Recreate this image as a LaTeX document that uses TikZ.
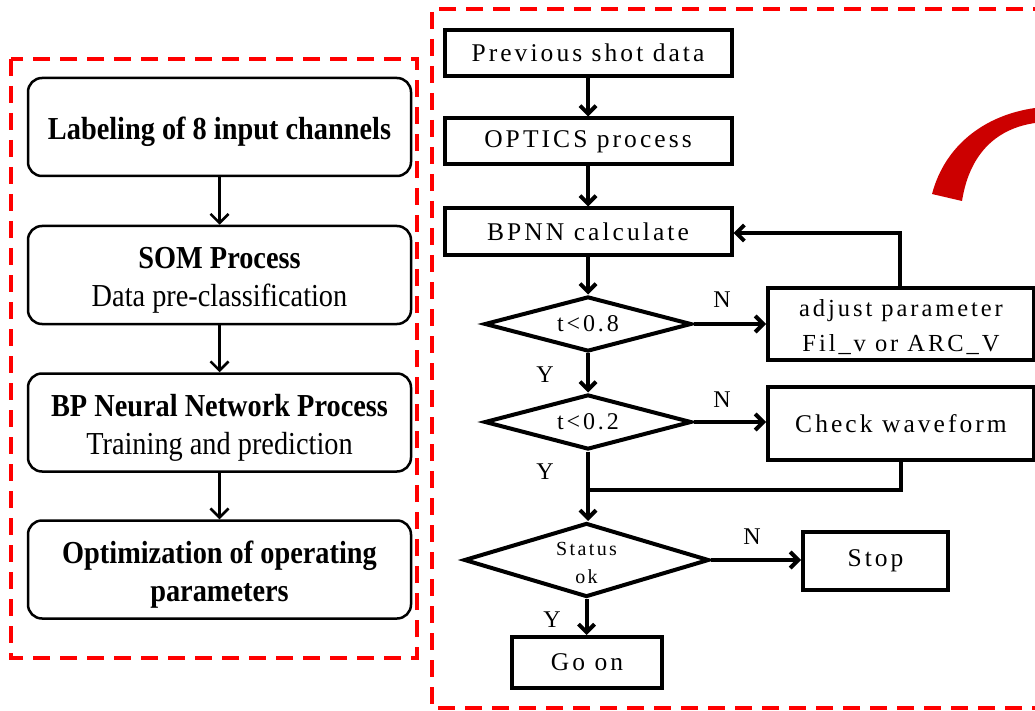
\documentclass[tikz,border=0pt]{standalone}
\usepackage{fontspec}
\setmainfont{Liberation Serif}
\newfontfamily\spc[LetterSpace=12]{Liberation Serif}
\newfontfamily\lfont[FakeStretch=0.885]{Liberation Serif}
\usetikzlibrary{shapes.geometric,arrows.meta}
\definecolor{arcred}{HTML}{CC0000}
\tikzset{
  lbox/.style={draw, line width=2.5, rounded corners=14, minimum width=383, minimum height=98, inner sep=0},
  ltxt/.style={align=center, inner sep=0, font=\lfont\fontsize{32}{38}\selectfont},
  rbox/.style={draw, line width=4, inner sep=0, align=center, font=\spc\fontsize{25.5}{30}\selectfont},
  rtxt/.style={align=center, inner sep=0},
  dia/.style={draw, diamond, line width=4, inner sep=0, minimum width=207, minimum height=55, aspect=3.76, align=center, font=\spc\fontsize{24}{26}\selectfont},
  larr/.style={-{Straight Barb[length=9,width=18]}, line width=2.5},
  rarr/.style={-{Straight Barb[length=8,width=16]}, line width=4},
  rline/.style={line width=4},
  yn/.style={font=\fontsize{24}{26}\selectfont, inner sep=0},
  reddash/.style={draw=red, line width=3.5, dash pattern=on 17 off 10}
}
\begin{document}
\begin{tikzpicture}[x=1pt,y=-1pt]
\useasboundingbox (0,0) rectangle (1035,711);
\clip (0,0) rectangle (1035,711);
% red dashed frames
\draw[reddash] (11,59) rectangle (417,658);
\draw[reddash] (1050,9) -- (432,9) -- (432,708) -- (1050,708);
% red arc
\fill[arcred] (932,194) .. controls (945,145) and (985,115) .. (1035,108) -- (1035,123) .. controls (1000,128) and (970,150) .. (962,201) -- cycle;
% left column
\node[lbox] (lb1) at (219.5,127) {};
\node[lbox] (lb2) at (219.5,275) {};
\node[lbox] (lb3) at (219.5,422.5) {};
\node[lbox] (lb4) at (219.5,569.5) {};
\node[ltxt] (t1) at ([yshift=-5pt]lb1.center) {\textbf{Labeling of 8 input channels}};
\node[ltxt] (t2) at ([yshift=-5pt]lb2.center) {\textbf{SOM Process}\\Data pre-classification};
\node[ltxt] (t3) at ([yshift=-5pt]lb3.center) {\textbf{BP Neural Network Process}\\Training and prediction};
\node[ltxt] (t4) at ([yshift=-5pt]lb4.center) {\textbf{Optimization of operating}\\\textbf{parameters}};
\draw[larr] (lb1) -- (lb2);
\draw[larr] (lb2) -- (lb3);
\draw[larr] (lb3) -- (lb4);
% right flowchart
\node[rbox, minimum width=287, minimum height=46] (r1) at (588,53) {Previous shot data};
\node[rbox, minimum width=287, minimum height=46] (r2) at (588,141.5) {OPTICS process};
\node[rbox, minimum width=287, minimum height=46] (r3) at (588,231.5) {BPNN calculate};
\node[dia] (d1) at (588,324) {t<0.8};
\node[dia] (d2) at (588,422) {t<0.2};
\node[rbox, minimum width=266, minimum height=72] (ad) at (901,324) {};
\node[rtxt, font=\spc\fontsize{24.5}{35}\selectfont] (adt) at ([yshift=-3pt]ad.center) {adjust parameter\\Fil\_v or ARC\_V};
\node[rbox, minimum width=266, minimum height=73] (cw) at (901,423.5) {Check waveform};
\node[dia, minimum width=245, minimum height=74, aspect=3.3] (d3) at (586.5,560) {};
\node[rtxt, font=\spc\fontsize{20}{28}\selectfont] (d3t) at ([yshift=-3pt]d3.center) {Status\\ok};
\node[rbox, minimum width=145, minimum height=58] (stop) at (875.5,561) {Stop};
\node[rbox, minimum width=150, minimum height=51] (goon) at (587,662.5) {Go on};
\coordinate (j) at (588,490);
\coordinate (fb) at (900,233);
\draw[rarr] (r1) -- (r2);
\draw[rarr] (r2) -- (r3);
\draw[rarr] (r3) -- (d1);
\draw[rarr] (d1) -- (d2);
\draw[rarr] (d1.east) -- (d1.east -| ad.west);
\draw[rarr] (d2.east) -- (d2.east -| cw.west);
\draw[rarr] (d2.south) -- (d2.south |- d3.north);
\draw[rline] (cw.south) |- (j);
\draw[rarr] (d3.east) -- (d3.east -| stop.west);
\draw[rarr] (d3.south) -- (d3.south |- goon.north);
\draw[rarr] (ad.north -| fb) -- (fb) -- (r3.east |- fb);
% labels
\node[yn] (n1) at (722,300) {N};
\node[yn] (y1) at (545,375) {Y};
\node[yn] (n2) at (722,400) {N};
\node[yn] (y2) at (545,472) {Y};
\node[yn] (n3) at (752,537) {N};
\node[yn] (y3) at (552,620) {Y};
\end{tikzpicture}
\end{document}
